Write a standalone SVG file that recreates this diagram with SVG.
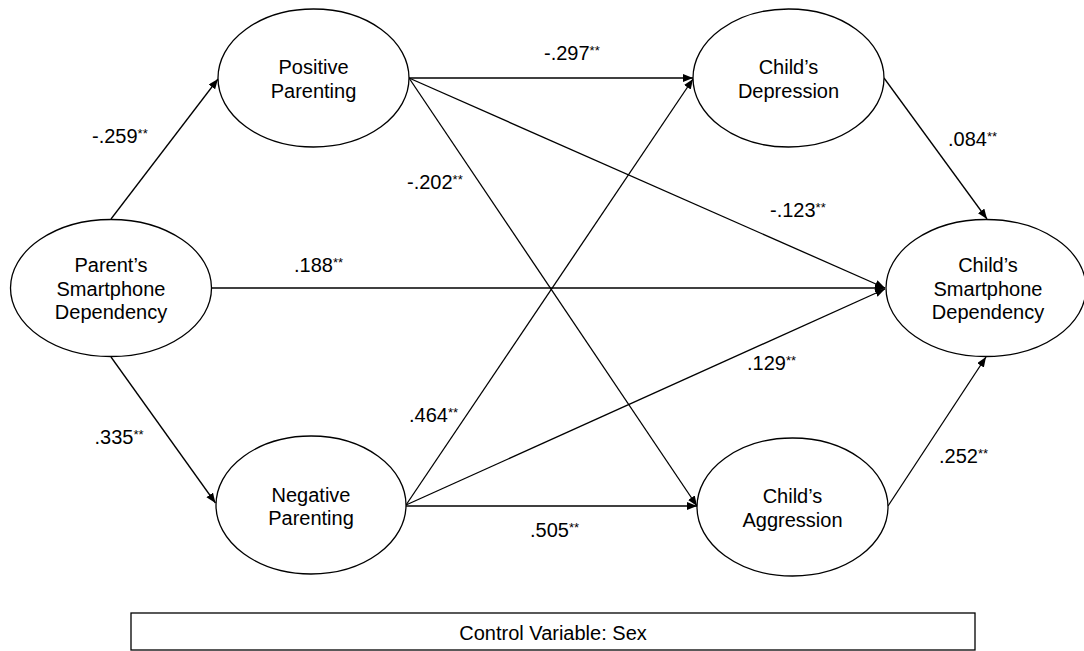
<svg xmlns="http://www.w3.org/2000/svg" width="1084" height="651" viewBox="0 0 1084 651">
<defs>
<style>
.node{fill:#fff;stroke:#000;stroke-width:1.3}
.t{font-family:"Liberation Sans",Arial,sans-serif;font-size:20px;fill:#000}
.c{text-anchor:middle}
.e{stroke:#000;stroke-width:1.3;fill:none;marker-end:url(#ah)}
.s{font-size:13px}
</style>
<marker id="ah" markerUnits="userSpaceOnUse" markerWidth="11" markerHeight="9" refX="10" refY="4" orient="auto">
<path d="M0,0 L10,4 L0,8 Z" fill="#000"/>
</marker>
</defs>
<rect width="1084" height="651" fill="#fff"/>
<g id="connectors">
<line class="e" x1="111" y1="219" x2="218" y2="79"/>
<line class="e" x1="111" y1="357" x2="215.5" y2="503"/>
<line class="e" x1="211" y1="288" x2="885" y2="288"/>
<line class="e" x1="409" y1="78" x2="693" y2="78"/>
<line class="e" x1="409" y1="78" x2="885" y2="288"/>
<line class="e" x1="409" y1="78" x2="697" y2="506"/>
<line class="e" x1="406" y1="505" x2="693" y2="79"/>
<line class="e" x1="406" y1="505" x2="885" y2="289"/>
<line class="e" x1="406" y1="506" x2="697" y2="506"/>
<line class="e" x1="884" y1="78" x2="987" y2="219"/>
<line class="e" x1="888" y1="506" x2="986" y2="357"/>
</g>
<g id="labels">
<text class="t" x="92" y="143">-.259<tspan class="s" dy="-5">**</tspan></text>
<text class="t" x="544" y="60">-.297<tspan class="s" dy="-5">**</tspan></text>
<text class="t" x="407" y="189">-.202<tspan class="s" dy="-5">**</tspan></text>
<text class="t" x="948" y="146">.084<tspan class="s" dy="-5">**</tspan></text>
<text class="t" x="770" y="217">-.123<tspan class="s" dy="-5">**</tspan></text>
<text class="t" x="294" y="272">.188<tspan class="s" dy="-5">**</tspan></text>
<text class="t" x="747" y="370">.129<tspan class="s" dy="-5">**</tspan></text>
<text class="t" x="409" y="422">.464<tspan class="s" dy="-5">**</tspan></text>
<text class="t" x="94.5" y="444">.335<tspan class="s" dy="-5">**</tspan></text>
<text class="t" x="530" y="537">.505<tspan class="s" dy="-5">**</tspan></text>
<text class="t" x="939" y="463">.252<tspan class="s" dy="-5">**</tspan></text>
</g>
<g id="positive-parenting">
<ellipse class="node" cx="313.5" cy="78" rx="95.5" ry="69"/>
<text class="t c" x="313.5" y="74">Positive</text>
<text class="t c" x="313.5" y="97.5">Parenting</text>
</g>
<g id="parents-smartphone-dependency">
<ellipse class="node" cx="111" cy="288" rx="100.5" ry="68.5"/>
<text class="t c" x="111" y="272">Parent’s</text>
<text class="t c" x="111" y="295.5">Smartphone</text>
<text class="t c" x="111" y="319">Dependency</text>
</g>
<g id="negative-parenting">
<ellipse class="node" cx="311" cy="505" rx="95" ry="69"/>
<text class="t c" x="311" y="501.5">Negative</text>
<text class="t c" x="311" y="525">Parenting</text>
</g>
<g id="childs-depression">
<ellipse class="node" cx="788.5" cy="78" rx="95.5" ry="69"/>
<text class="t c" x="788.5" y="74">Child’s</text>
<text class="t c" x="788.5" y="97.5">Depression</text>
</g>
<g id="childs-smartphone-dependency">
<ellipse class="node" cx="986" cy="288" rx="100" ry="68.5"/>
<text class="t c" x="988" y="272">Child’s</text>
<text class="t c" x="988" y="295.5">Smartphone</text>
<text class="t c" x="988" y="319">Dependency</text>
</g>
<g id="childs-aggression">
<ellipse class="node" cx="792.5" cy="507" rx="95.5" ry="69"/>
<text class="t c" x="792.5" y="502.5">Child’s</text>
<text class="t c" x="792.5" y="526.5">Aggression</text>
</g>
<g id="control-variable">
<rect x="131" y="613" width="844" height="37" fill="#fff" stroke="#000" stroke-width="1.3"/>
<text class="t c" x="553" y="640">Control Variable: Sex</text>
</g>
</svg>
